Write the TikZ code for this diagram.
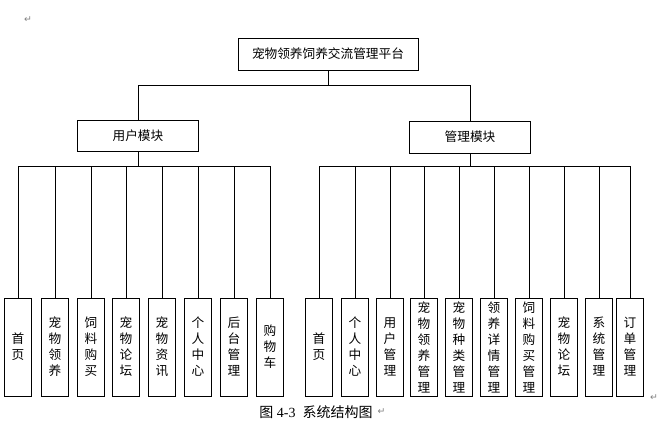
\documentclass[tikz,border=0pt]{standalone}
\usepackage{fontspec}
\setmainfont{Liberation Serif}
\newfontfamily\cjk{Noto Sans CJK SC}
\newfontfamily\sym{DejaVu Sans}
\begin{document}
\begin{tikzpicture}[x=0.75pt,y=-0.75pt]
\tikzset{
    box/.style={draw, fill=white, font=\cjk\fontsize{9.5}{11}\selectfont, inner sep=1pt},
    leaf/.style={box, minimum width=20pt, minimum height=73.5pt, align=center,
        font=\cjk\fontsize{9.5}{12}\selectfont},
    link/.style={black, line width=0.5pt},
    retmark/.style={font=\sym\fontsize{7}{8}\selectfont, text=gray}}
\useasboundingbox (0,0) rectangle (662,444);

% root and modules
\node[box, minimum width=135pt, minimum height=24pt] (root) at (328,54) {宠物领养饲养交流管理平台};
\node[box, minimum width=91pt, minimum height=23pt] (um) at (138,136) {用户模块};
\node[box, minimum width=91pt, minimum height=24pt] (am) at (470,137) {管理模块};
\coordinate (bus) at (328,85);
\draw[link] (um.north) |- (bus) -| (root.south);
\draw[link] (am.north) |- (bus);

% user leaves
\coordinate (ubus) at (138,166);
\foreach \x/\t [count=\i] in {18/首\\页, 55/宠\\物\\领\\养, 91/饲\\料\\购\\买, 126/宠\\物\\论\\坛,
    162/宠\\物\\资\\讯, 198/个\\人\\中\\心, 234/后\\台\\管\\理, 270/购\\物\\车}{
  \node[leaf] (u\i) at (\x,347) {\t};
  \draw[link] (u\i.north) |- (ubus) -| (um.south);
}

% admin leaves
\coordinate (abus) at (470,166);
\foreach \x/\t [count=\i] in {319/首\\页, 355/个\\人\\中\\心, 390/用\\户\\管\\理, 424/宠\\物\\领\\养\\管\\理,
    459/宠\\物\\种\\类\\管\\理, 494/领\\养\\详\\情\\管\\理, 529/饲\\料\\购\\买\\管\\理, 564/宠\\物\\论\\坛,
    599/系\\统\\管\\理, 630/订\\单\\管\\理}{
  \node[leaf] (a\i) at (\x,347) {\t};
  \draw[link] (a\i.north) |- (abus) -| (am.south);
}

% caption and marks
\node[font=\fontsize{10.5}{12}\selectfont] (cap) at (316,412) {{\cjk 图} 4-3\ \ {\cjk 系统结构图}};
\node[retmark, anchor=west, inner sep=0pt] (m1) at (cap.east) {↵};
\node[retmark] (m0) at (28,20) {↵};
\node[retmark] (m2) at (654,398) {↵};
\end{tikzpicture}
\end{document}
